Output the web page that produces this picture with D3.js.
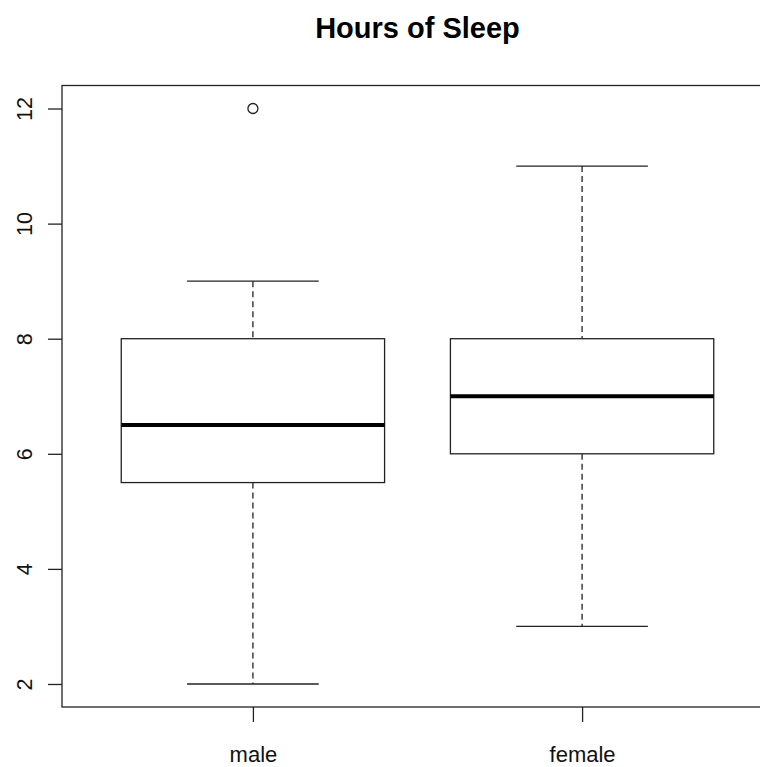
<!DOCTYPE html>
<html><head><meta charset="utf-8">
<script src="https://cdn.jsdelivr.net/npm/d3@7"></script>
<style>body{margin:0;background:#fff}svg{display:block}</style>
</head><body>
<script>
const categories = ["male", "female"];
const whiskerLow = [2, 3];
const q1 = [5.5, 6];
const medians = [6.5, 7];
const q3 = [8, 8];
const whiskerHigh = [9, 11];
const outliers = [[12], []];
const yTicks = [2, 4, 6, 8, 10, 12];
const title = "Hours of Sleep";

(function () {
const W = 760, H = 767;
const svg = d3.select("body").append("svg").attr("width", W).attr("height", H);
const mLeft = 62, mRight = 773, mTop = 85.5, mBottom = 707;
const font = "'Liberation Sans', Arial, sans-serif";
const ink = "#222";

const x = d3.scaleLinear().domain([0.42, 2.58]).range([mLeft, mRight]);
const y = d3.scaleLinear().domain([1.6, 12.4]).range([mBottom, mTop]);

svg.append("text").attr("x", (mLeft + mRight) / 2).attr("y", 38)
  .attr("text-anchor", "middle").attr("font-family", font)
  .attr("font-weight", "bold").attr("font-size", 29).attr("fill", "#000").text(title);

categories.forEach((c, i) => {
  const cx = x(i + 1);
  const hw = x(0.4) - x(0);
  const cw = x(0.2) - x(0);
  const g = svg.append("g").attr("stroke", ink).attr("fill", "none").attr("stroke-width", 1.3);
  g.append("line").attr("x1", cx).attr("x2", cx).attr("y1", y(whiskerHigh[i])).attr("y2", y(q3[i])).attr("stroke-dasharray", "6,4");
  g.append("line").attr("x1", cx).attr("x2", cx).attr("y1", y(q1[i])).attr("y2", y(whiskerLow[i])).attr("stroke-dasharray", "6,4");
  g.append("line").attr("x1", cx - cw).attr("x2", cx + cw).attr("y1", y(whiskerHigh[i])).attr("y2", y(whiskerHigh[i]));
  g.append("line").attr("x1", cx - cw).attr("x2", cx + cw).attr("y1", y(whiskerLow[i])).attr("y2", y(whiskerLow[i]));
  g.append("rect").attr("x", cx - hw).attr("width", 2 * hw).attr("y", y(q3[i])).attr("height", y(q1[i]) - y(q3[i])).attr("fill", "#fff");
  g.append("line").attr("x1", cx - hw).attr("x2", cx + hw).attr("y1", y(medians[i])).attr("y2", y(medians[i])).attr("stroke", "#000").attr("stroke-width", 4);
  outliers[i].forEach(v => {
    g.append("circle").attr("cx", cx).attr("cy", y(v)).attr("r", 5);
  });
});

svg.append("rect").attr("x", mLeft).attr("y", mTop).attr("width", mRight - mLeft).attr("height", mBottom - mTop)
  .attr("fill", "none").attr("stroke", ink).attr("stroke-width", 1.3);

const yAxis = d3.axisLeft(y).tickValues(yTicks).tickSize(14).tickPadding(8).tickFormat(d3.format("d"));
const ya = svg.append("g").attr("transform", `translate(${mLeft},0)`).call(yAxis);
ya.select(".domain").remove();
ya.selectAll(".tick line").attr("stroke", ink).attr("stroke-width", 1.3);
ya.selectAll(".tick text").attr("font-family", font).attr("font-size", 21.5).attr("fill", "#111")
  .attr("x", null).attr("dy", null)
  .attr("text-anchor", "middle")
  .attr("transform", "translate(-30,0) rotate(-90)");

const xAxis = d3.axisBottom(x).tickValues([1, 2]).tickSize(15).tickPadding(0).tickFormat(d => categories[d - 1]);
const xa = svg.append("g").attr("transform", `translate(0,${mBottom})`).call(xAxis);
xa.select(".domain").remove();
xa.selectAll(".tick line").attr("stroke", ink).attr("stroke-width", 1.3);
xa.selectAll(".tick text").attr("font-family", font).attr("font-size", 22).attr("fill", "#111")
  .attr("y", 55).attr("dy", "0");
})();
</script>
</body></html>
